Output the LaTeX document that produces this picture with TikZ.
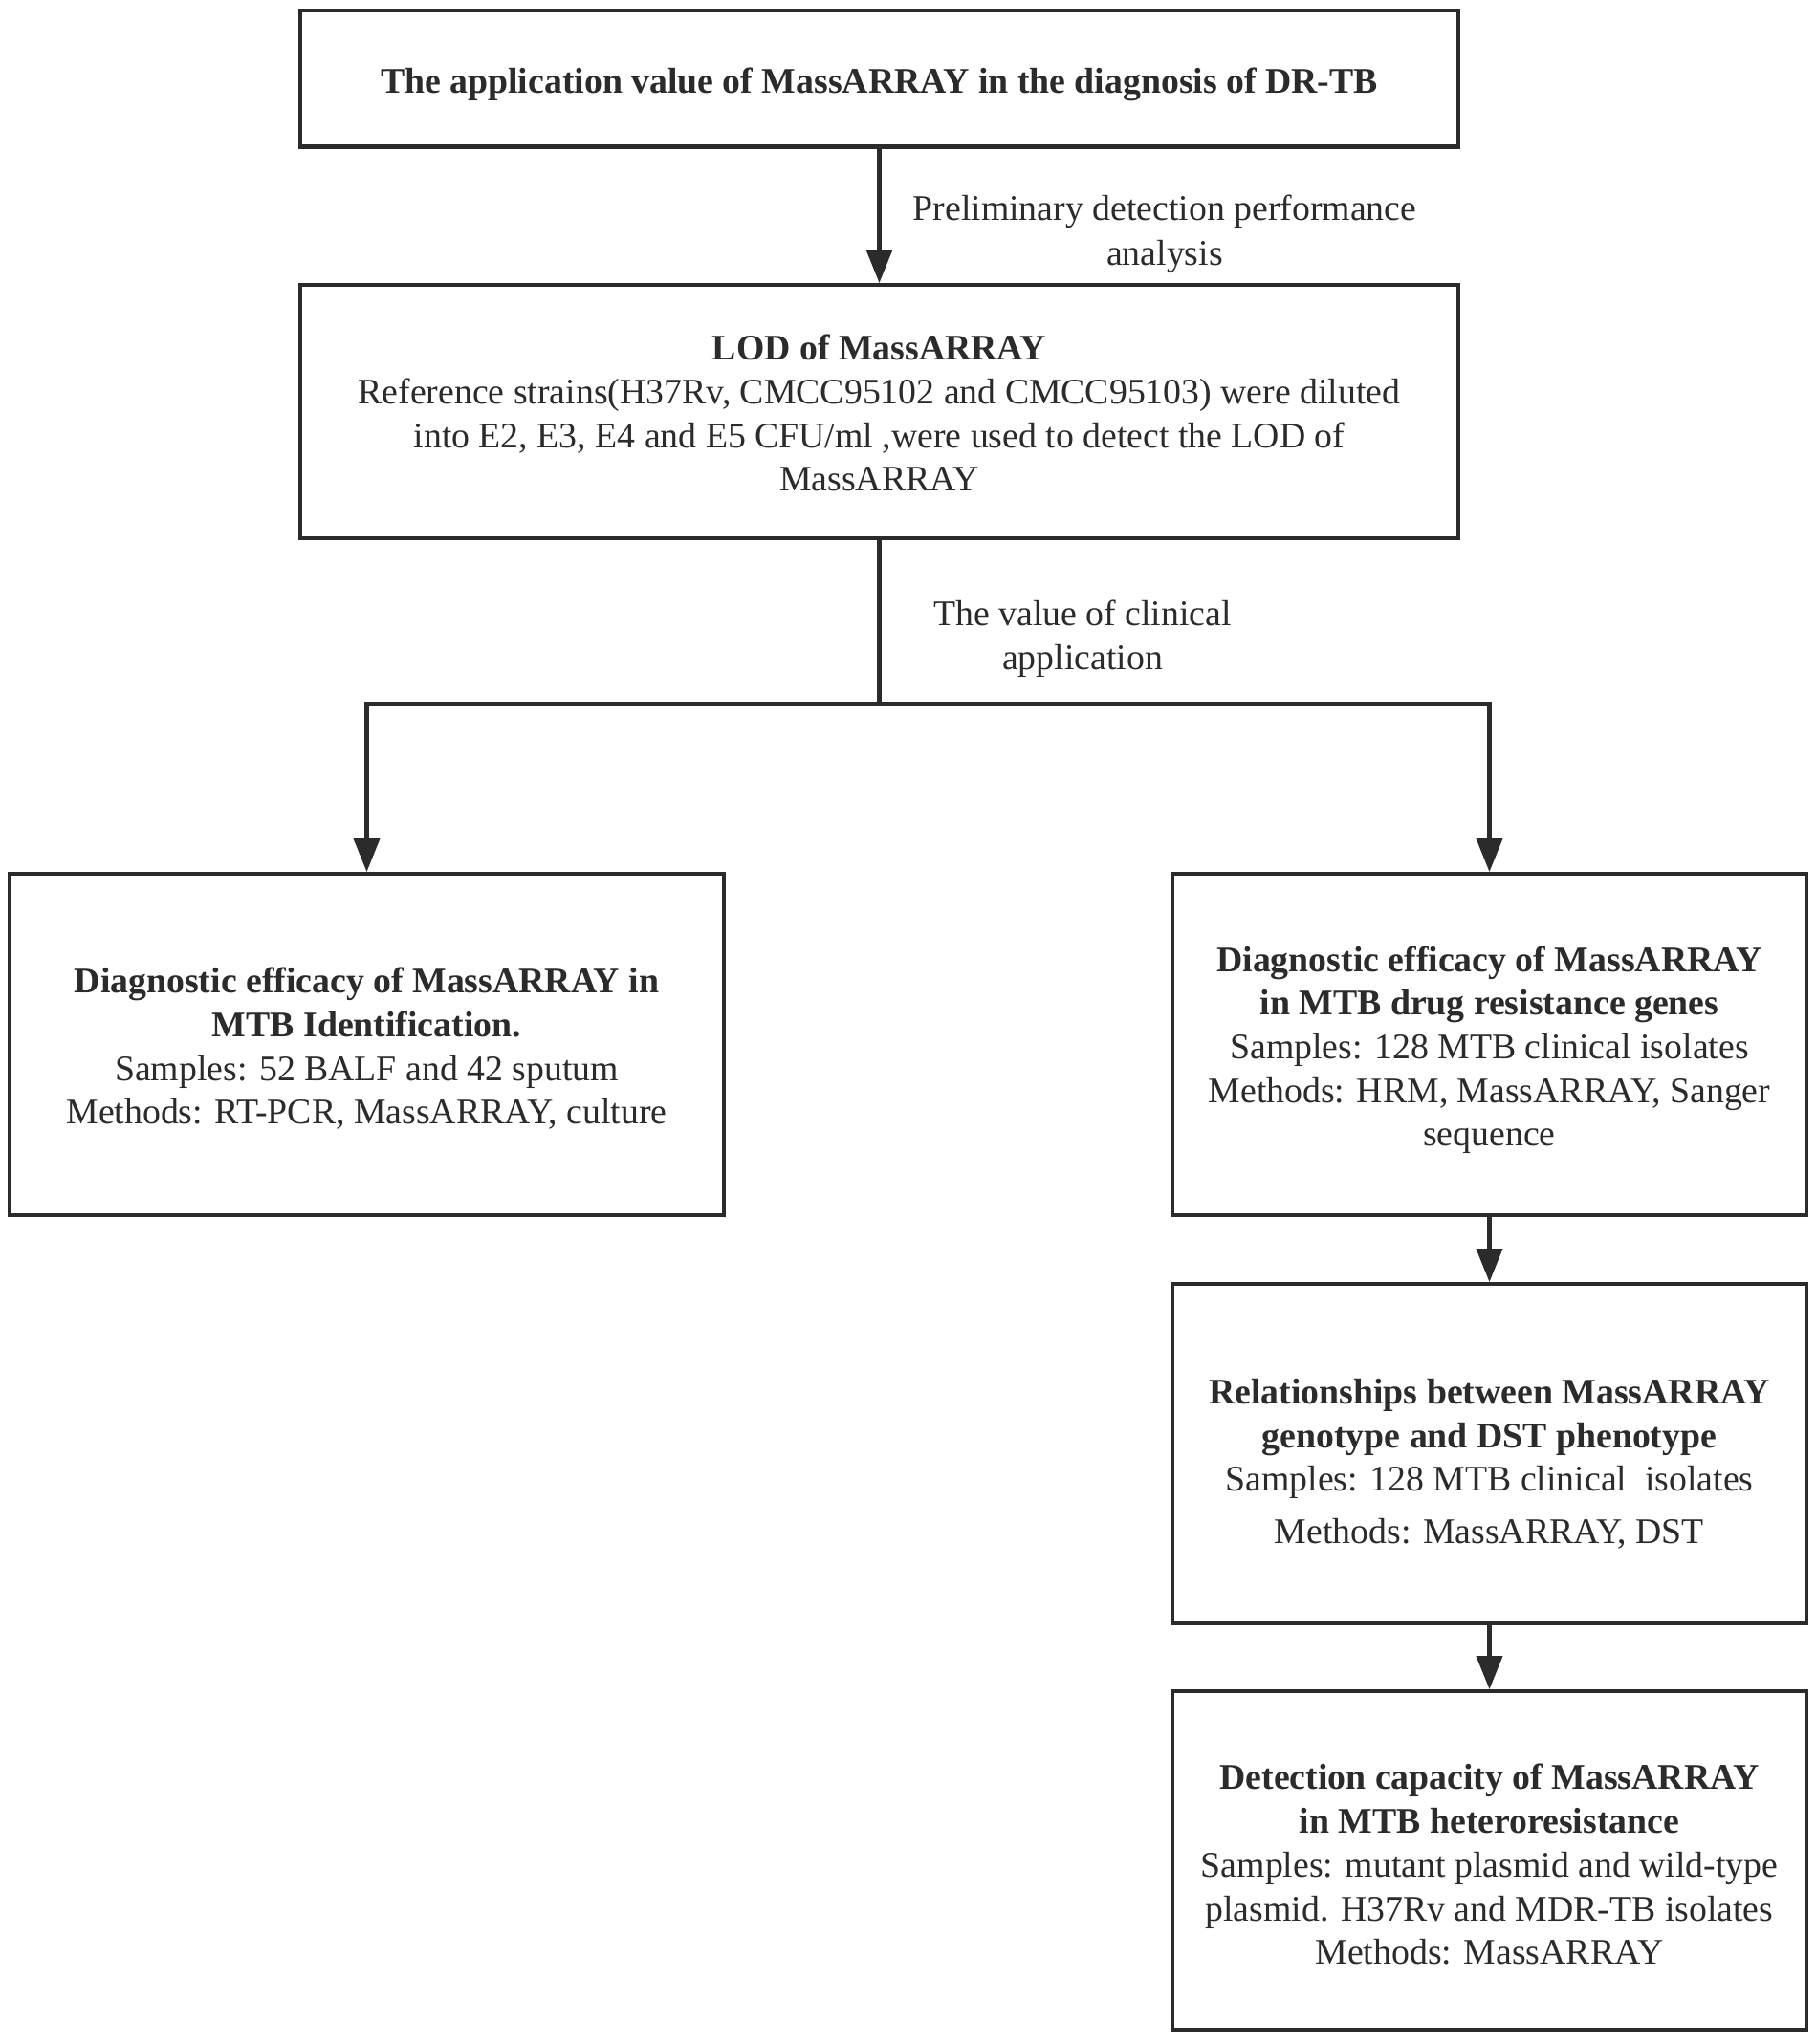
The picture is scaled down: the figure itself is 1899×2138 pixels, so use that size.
\documentclass[tikz,border=0pt]{standalone}
\usepackage{fontspec}
\setmainfont{Liberation Serif}
\usepackage{tikz}
\usetikzlibrary{arrows.meta}
\definecolor{ink}{HTML}{2B2B2B}

\begin{document}
\begin{tikzpicture}[x=0.02cm,y=-0.02cm,
		box/.style={draw=ink,line width=2.3pt,fill=white,align=center,inner sep=0pt,text=ink,
			font=\fontsize{21.5}{26}\selectfont},
		lbl/.style={align=center,inner sep=0pt,text=ink,font=\fontsize{21.5}{26.5}\selectfont},
		arr/.style={draw=ink,line width=2.3pt,-{Triangle[length=0.7cm,width=0.54cm]}},
		link/.style={draw=ink,line width=2.3pt}]
			\useasboundingbox (0,0) rectangle (1899,2138);
			% the struts push the text a little below the box centre
			\node[box,minimum width=24.22cm,minimum height=2.86cm] (aim) at (919.5,82)
				{\rule{0pt}{22pt}\textbf{The application value of MassARRAY in the diagnosis of DR-TB}};
			\node[box,minimum width=24.22cm,minimum height=5.3cm] (lod) at (919.5,430.5)
				{\rule{0pt}{17pt}\textbf{LOD of MassARRAY}\\Reference strains(H37Rv, CMCC95102 and CMCC95103) were diluted\\into E2, E3, E4 and E5 CFU/ml ,were used to detect the LOD of\\MassARRAY};
			\node[box,minimum width=14.94cm,minimum height=7.14cm] (ident) at (383.5,1092.5)
				{\rule{0pt}{20pt}\textbf{Diagnostic efficacy of MassARRAY in}\\\textbf{MTB Identification.}\\Samples: 52 BALF and 42 sputum\\Methods: RT-PCR, MassARRAY, culture};
			\node[box,minimum width=13.26cm,minimum height=7.14cm] (genes) at (1557.5,1092.5)
				{\rule{0pt}{21.5pt}\textbf{Diagnostic efficacy of MassARRAY}\\\textbf{in MTB drug resistance genes}\\Samples: 128 MTB clinical isolates\\Methods: HRM, MassARRAY, Sanger\\sequence};
			\node[box,minimum width=13.26cm,minimum height=7.1cm] (pheno) at (1557.5,1520.5)
				{\rule{0pt}{27pt}\textbf{Relationships between MassARRAY}\\\textbf{genotype and DST phenotype}\\Samples: 128 MTB clinical~ isolates\\[5pt]Methods: MassARRAY, DST};
			\node[box,minimum width=13.26cm,minimum height=7.08cm] (hetero) at (1557.5,1946)
				{\rule{0pt}{20pt}\textbf{Detection capacity of MassARRAY}\\\textbf{in MTB heteroresistance}\\Samples: mutant plasmid and wild-type\\plasmid. H37Rv and MDR-TB isolates\\Methods: MassARRAY};
			\coordinate (split) at (919.5,736);
			\draw[arr] (aim) -- (lod);
			\draw[link] (lod) -- (split);
			\draw[arr] (split) -| (ident.north);
			\draw[arr] (split) -| (genes.north);
			\draw[arr] (genes) -- (pheno);
			\draw[arr] (pheno) -- (hetero);
			\node[lbl] (prelim) at (1218,245) {Preliminary detection performance\\analysis};
			\node[lbl] (clinic) at (1132,668) {The value of clinical\\application};
		\end{tikzpicture}
\end{document}
